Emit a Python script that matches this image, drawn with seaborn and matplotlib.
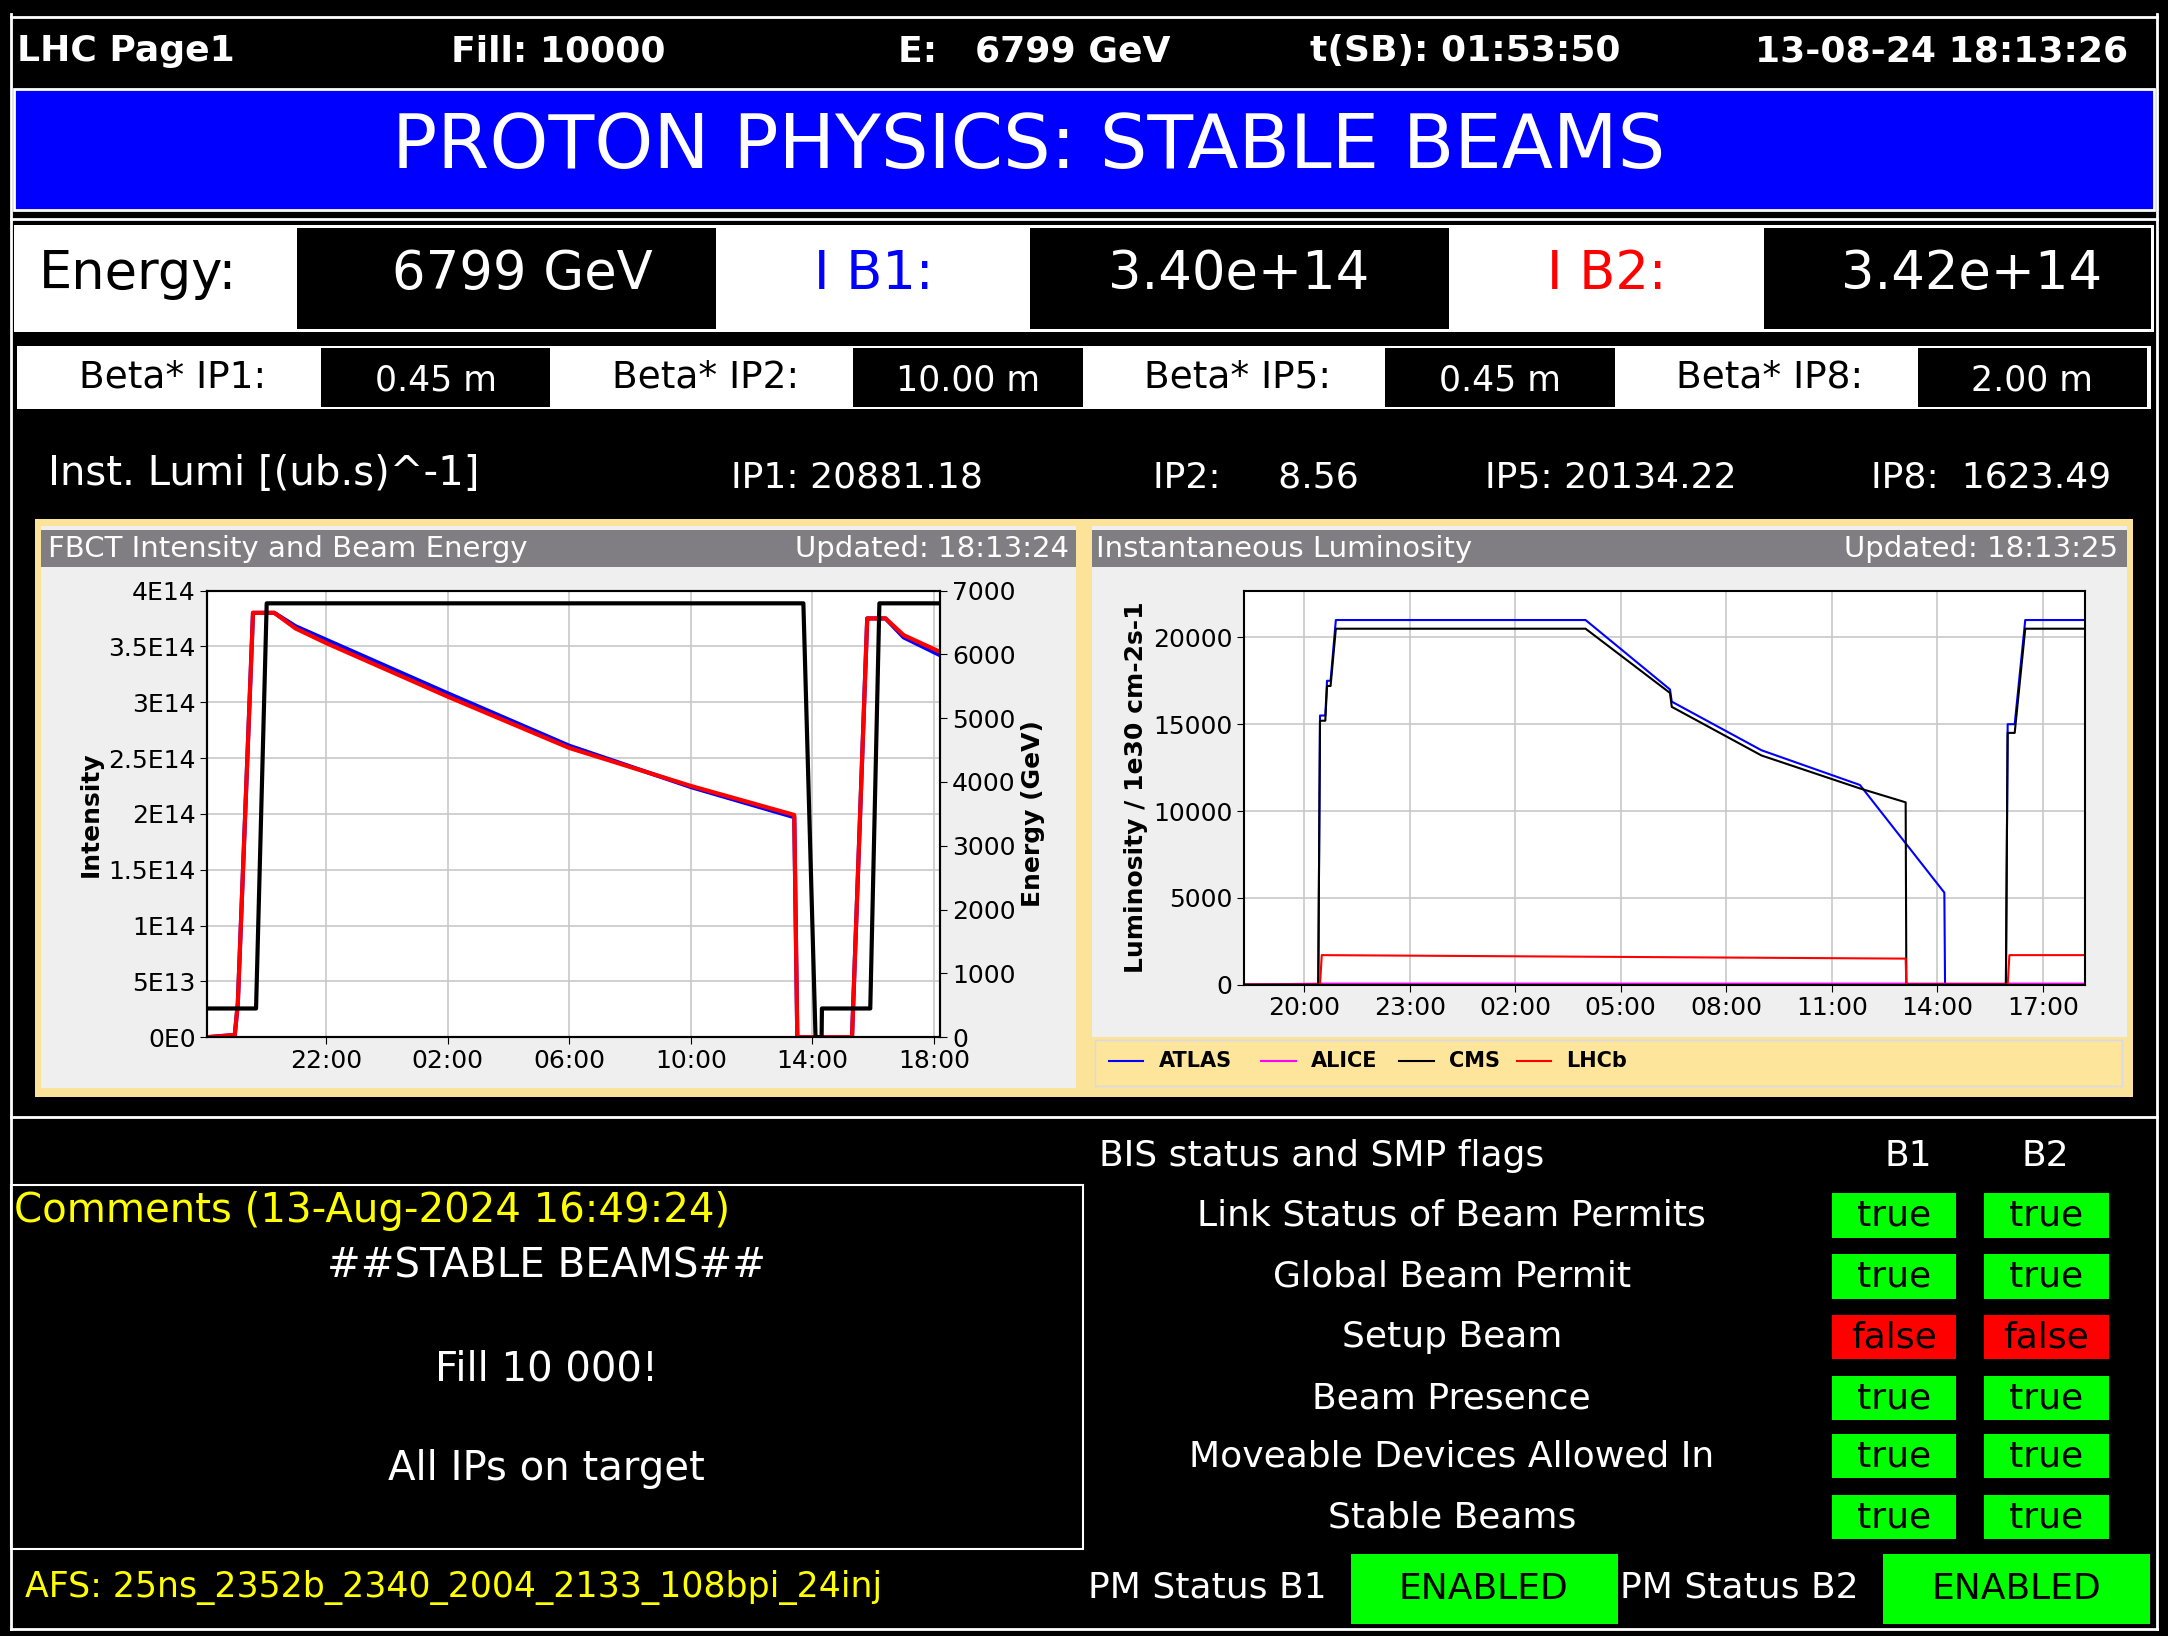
import matplotlib
matplotlib.use("Agg")
import matplotlib.pyplot as plt
import seaborn as sns
import pandas as pd
from matplotlib.patches import Rectangle

# ── Data (hours since 00:00 of 12-Aug) ────────────────────────────────────────
HDR = ["LHC Page1", "Fill: 10000", "E:   6799 GeV", "t(SB): 01:53:50", "13-08-24 18:13:26"]
BETA_LABELS = ["Beta* IP1:", "Beta* IP2:", "Beta* IP5:", "Beta* IP8:"]
BETA_VALUES = ["0.45 m", "10.00 m", "0.45 m", "2.00 m"]
LUMI_TEXT = ["IP1: 20881.18", "IP2:     8.56", "IP5: 20134.22", "IP8:  1623.49"]

t_b1 = [18.1, 19.0, 19.1, 19.6, 20.3, 21.0, 22, 26, 30, 34, 37.4, 37.5, 39.3, 39.5, 39.8, 40.4, 41, 42.2]
i_b1 = [0, 0.02, 0.3, 3.8, 3.8, 3.68, 3.56, 3.08, 2.61, 2.24, 1.97, 0.0, 0.0, 1.5, 3.75, 3.75, 3.58, 3.42]
t_b2 = [18.1, 19.0, 19.1, 19.6, 20.3, 21.0, 22, 26, 30, 34, 37.4, 37.5, 39.3, 39.5, 39.8, 40.4, 41, 42.2]
i_b2 = [0, 0.02, 0.3, 3.8, 3.8, 3.66, 3.53, 3.05, 2.59, 2.25, 1.99, 0.0, 0.0, 1.5, 3.75, 3.75, 3.6, 3.45]
t_en = [18.1, 19.7, 20.05, 37.7, 38.1, 38.3, 38.31, 39.9, 40.2, 42.2]
energy = [450, 450, 6799, 6799, 0, 0, 450, 450, 6799, 6799]

t_atlas = [18.3, 20.4, 20.45, 20.6, 20.65, 20.75, 20.9, 28.0, 30.4, 30.45, 33.0, 35.8, 38.2, 38.22, 39.95, 40.0, 40.2, 40.35, 40.5, 42.2]
atlas = [0, 0, 15500, 15500, 17500, 17500, 21000, 21000, 17000, 16300, 13500, 11500, 5300, 0, 0, 15000, 15000, 18000, 21000, 21000]
t_cms = [18.3, 20.4, 20.45, 20.6, 20.65, 20.75, 20.9, 28.0, 30.4, 30.45, 33.0, 35.8, 37.1, 37.12, 39.95, 40.0, 40.2, 40.35, 40.5, 42.2]
cms = [0, 0, 15200, 15200, 17200, 17200, 20500, 20500, 16800, 16000, 13200, 11300, 10500, 0, 0, 14500, 14500, 17500, 20500, 20500]
t_lhcb = [18.3, 20.45, 20.5, 37.0, 37.1, 37.12, 40.0, 40.05, 42.2]
lhcb = [0, 0, 1700, 1500, 1500, 0, 0, 1700, 1700]
t_alice = [18.3, 20.45, 42.2]
alice = [0, 60, 60]

STATUS = ["Link Status of Beam Permits", "Global Beam Permit", "Setup Beam",
          "Beam Presence", "Moveable Devices Allowed In", "Stable Beams"]
STATUS_B1 = [True, True, False, True, True, True]
STATUS_B2 = [True, True, False, True, True, True]

# ── Layout helpers (reference coordinates 1568x1183) ──────────────────────────
W, H = 1568, 1183
fig = plt.figure(figsize=(21.68, 16.36), dpi=100, facecolor="black")
bg = fig.add_axes([0, 0, 1, 1])
bg.set_xlim(0, W); bg.set_ylim(H, 0); bg.axis("off")
FONT = "DejaVu Sans"


def box(x0, y0, x1, y1, fc, ec="none", lw=0, z=1):
    bg.add_patch(Rectangle((x0, y0), x1 - x0, y1 - y0, fc=fc, ec=ec, lw=lw, zorder=z))


def txt(x, y, s, size, color="white", ha="center", **kw):
    bg.text(x, y, s, fontsize=size, color=color, ha=ha, va="center", family=FONT, zorder=5, **kw)


def axes_at(x0, y0, x1, y1):
    return fig.add_axes([x0 / W, 1 - y1 / H, (x1 - x0) / W, (y1 - y0) / H])


# header
for x, s in zip([12, 404, 748, 1060, 1404], HDR):
    txt(x, 37, s, 26, ha="left" if x == 12 else "center", weight="bold")
box(10, 64, 1558, 152, "#0000ff", ec="white", lw=2)
txt(744, 107, "PROTON PHYSICS: STABLE BEAMS", 54)
bg.plot([8, 1560], [158, 158], color="white", lw=2)

# energy row
box(10, 163, 1558, 240, "white")
for x0, x1 in [(215, 518), (745, 1048), (1276, 1556)]:
    box(x0, 165, x1, 238, "black")
txt(100, 198, "Energy:", 38, color="black")
txt(378, 198, "6799 GeV", 38)
txt(632, 198, "I B1:", 38, color="#0000ff")
txt(896, 198, "3.40e+14", 38)
txt(1162, 198, "I B2:", 38, color="#ff0000")
txt(1426, 198, "3.42e+14", 38)

# beta row
box(12, 250, 1556, 296, "white")
for i, (lab, val) in enumerate(zip(BETA_LABELS, BETA_VALUES)):
    x0 = 232 + 385 * i
    box(x0, 252, x0 + 166, 294, "black")
    txt(x0 - 107, 273, lab, 27, color="black")
    txt(x0 + 83, 275, val, 25)

# lumi text row
txt(35, 343, "Inst. Lumi [(ub.s)^-1]", 29, ha="left")
for x, s in zip([620, 908, 1165, 1440], LUMI_TEXT):
    txt(x, 345, s, 26)

# chart panel frame
box(25, 375, 1543, 793, "#fbe39a")
box(30, 380, 778, 787, "#efefef")
box(790, 380, 1538, 750, "#efefef")
box(30, 383, 778, 410, "#807e82")
box(790, 383, 1538, 410, "#807e82")
txt(35, 397, "FBCT Intensity and Beam Energy", 21, ha="left")
txt(773, 397, "Updated: 18:13:24", 21, ha="right")
txt(793, 397, "Instantaneous Luminosity", 21, ha="left")
txt(1532, 397, "Updated: 18:13:25", 21, ha="right")

grid_kw = dict(color="#c8c8c8", lw=1.2)

# ── Left chart ────────────────────────────────────────────────────────────────
ax = axes_at(150, 427, 680, 750)
ax.set_facecolor("white")
ax.grid(True, **grid_kw); ax.set_axisbelow(True)
sns.lineplot(x=t_b1, y=[v * 1e14 for v in i_b1], ax=ax, color="#0000ff", lw=3, estimator=None, sort=False)
sns.lineplot(x=t_b2, y=[v * 1e14 for v in i_b2], ax=ax, color="#ff0000", lw=3, estimator=None, sort=False)
ax.set_xlim(18.1, 42.2); ax.set_ylim(0, 4e14)
ax.set_xticks([22, 26, 30, 34, 38, 42])
ax.set_xticklabels(["22:00", "02:00", "06:00", "10:00", "14:00", "18:00"])
yt = [0, 0.5e14, 1e14, 1.5e14, 2e14, 2.5e14, 3e14, 3.5e14, 4e14]
ax.set_yticks(yt)
ax.set_yticklabels(["0E0", "5E13", "1E14", "1.5E14", "2E14", "2.5E14", "3E14", "3.5E14", "4E14"])
ax.set_ylabel("Intensity", fontsize=18, weight="bold", labelpad=4)
ax2 = ax.twinx()
sns.lineplot(x=t_en, y=energy, ax=ax2, color="black", lw=3, estimator=None, sort=False)
ax2.set_ylim(0, 7000)
ax2.set_yticks(range(0, 7001, 1000))
ax2.set_ylabel("Energy (GeV)", fontsize=18, weight="bold", labelpad=4)
for a in (ax, ax2):
    a.tick_params(labelsize=18, direction="out", length=5)
    for sp in a.spines.values():
        sp.set_linewidth(1.5)

# ── Right chart ───────────────────────────────────────────────────────────────
lx = axes_at(900, 427, 1508, 712)
lx.set_facecolor("white")
lx.grid(True, **grid_kw); lx.set_axisbelow(True)
lumi = pd.concat([
    pd.DataFrame({"t": t_atlas, "L": atlas, "exp": "ATLAS"}),
    pd.DataFrame({"t": t_alice, "L": alice, "exp": "ALICE"}),
    pd.DataFrame({"t": t_cms, "L": cms, "exp": "CMS"}),
    pd.DataFrame({"t": t_lhcb, "L": lhcb, "exp": "LHCb"}),
])
pal = {"ATLAS": "#0000ff", "ALICE": "#ff00ff", "CMS": "black", "LHCb": "#ff0000"}
sns.lineplot(data=lumi, x="t", y="L", hue="exp", palette=pal, ax=lx, lw=1.5,
             estimator=None, sort=False, legend=False)
lx.set_xlim(18.3, 42.2); lx.set_ylim(0, 22700)
lx.set_xticks([20, 23, 26, 29, 32, 35, 38, 41])
lx.set_xticklabels(["20:00", "23:00", "02:00", "05:00", "08:00", "11:00", "14:00", "17:00"])
lx.set_yticks(range(0, 20001, 5000))
lx.set_xlabel(""); lx.set_ylabel("Luminosity / 1e30 cm-2s-1", fontsize=18, weight="bold")
lx.tick_params(labelsize=18, direction="out", length=5)
for sp in lx.spines.values():
    sp.set_linewidth(1.5)

# legend strip
box(792, 752, 1535, 785, "#fde59b", ec="#d8d8e8", lw=1)
for x, name in zip([802, 912, 1012, 1097], pal):
    bg.plot([x, x + 25], [767, 767], color=pal[name], lw=1.5, zorder=6)
    txt(x + 36, 767, name, 15, color="black", ha="left", weight="bold")

# ── Bottom section ────────────────────────────────────────────────────────────
bg.plot([8, 1560], [808, 808], color="white", lw=2)
bg.plot([8, 8], [10, 1178], color="white", lw=2)
bg.plot([1560, 1560], [10, 1178], color="white", lw=2)
bg.plot([8, 1560], [1178, 1178], color="white", lw=2)
bg.plot([8, 1560], [12, 12], color="white", lw=2)
box(8, 857, 783, 1120, "black", ec="white", lw=1.5)
txt(10, 876, "Comments (13-Aug-2024 16:49:24)", 29, color="#ffff00", ha="left")
txt(395, 916, "##STABLE BEAMS##", 29)
txt(395, 990, "Fill 10 000!", 29)
txt(395, 1062, "All IPs on target", 29)
txt(18, 1148, "AFS: 25ns_2352b_2340_2004_2133_108bpi_24inj", 25, color="#ffff00", ha="left")

txt(795, 836, "BIS status and SMP flags", 26, ha="left")
txt(1380, 836, "B1", 26)
txt(1479, 836, "B2", 26)
for i, (lab, b1, b2) in enumerate(zip(STATUS, STATUS_B1, STATUS_B2)):
    y = 879 + 44 * i - (2 if i >= 4 else 0)
    txt(1050, y, lab, 26)
    for x0, v in [(1325, b1), (1435, b2)]:
        box(x0, y - 16, x0 + 90, y + 16, "#00ff00" if v else "#ff0000")
        txt(x0 + 45, y, "true" if v else "false", 26, color="black")

txt(873, 1148, "PM Status B1", 26)
box(977, 1124, 1170, 1174, "#00ff00")
txt(1073, 1149, "ENABLED", 26, color="black")
txt(1258, 1148, "PM Status B2", 26)
box(1362, 1124, 1555, 1174, "#00ff00")
txt(1458, 1149, "ENABLED", 26, color="black")

fig.savefig("out.png", dpi=100, facecolor="black")
